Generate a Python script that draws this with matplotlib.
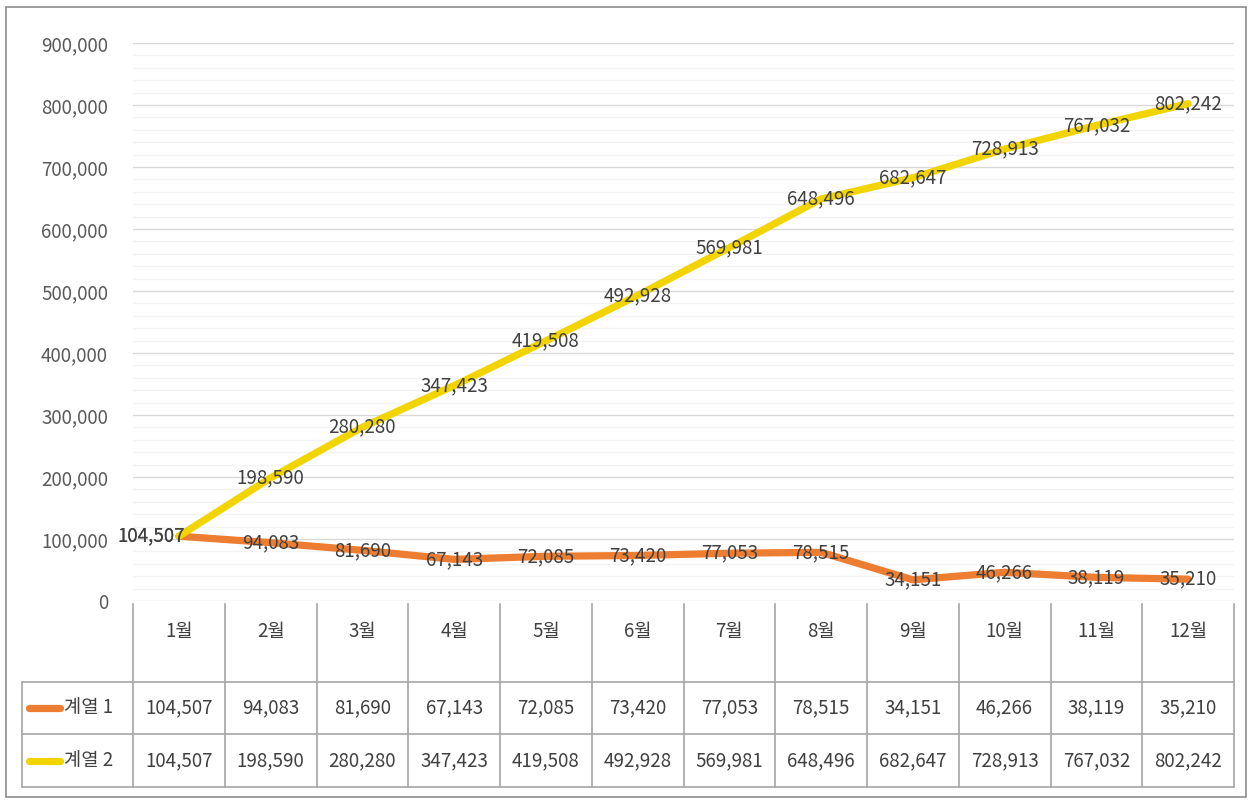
import matplotlib
matplotlib.use("Agg")
import matplotlib.pyplot as plt
from matplotlib.ticker import MultipleLocator, FuncFormatter

plt.rcParams['font.family'] = ['Noto Sans CJK KR', 'DejaVu Sans']

months = ["1월", "2월", "3월", "4월", "5월", "6월", "7월", "8월", "9월", "10월", "11월", "12월"]
series_names = ["계열 1", "계열 2"]
series1 = [104507, 94083, 81690, 67143, 72085, 73420, 77053, 78515, 34151, 46266, 38119, 35210]
series2 = [104507, 198590, 280280, 347423, 419508, 492928, 569981, 648496, 682647, 728913, 767032, 802242]
colors = ["#ED7D31", "#F2D400"]

W, H = 1253, 800
fig = plt.figure(figsize=(W / 100, H / 100), dpi=100)

FS = 13.5
TXT = '#404040'

# plot area in pixel coordinates
x0, x1 = 133, 1234
ytop, ybot = 43, 601
ax = fig.add_axes([x0 / W, (H - ybot) / H, (x1 - x0) / W, (ybot - ytop) / H])
ax.set_xlim(0, len(months))
ax.set_ylim(0, 900000)
ax.yaxis.set_major_locator(MultipleLocator(100000))
ax.yaxis.set_minor_locator(MultipleLocator(20000))
ax.yaxis.set_major_formatter(FuncFormatter(lambda v, p: f"{int(v):,}"))
ax.grid(True, which='major', axis='y', color='#D9D9D9', lw=1.0)
ax.grid(True, which='minor', axis='y', color='#F3F3F3', lw=1.0)
ax.set_axisbelow(True)
for s in ax.spines.values():
    s.set_visible(False)
ax.tick_params(axis='y', which='both', length=0, pad=18, labelsize=FS, labelcolor='#595959')
ax.tick_params(axis='x', length=0, labelbottom=False)
ax.set_xticks([])

xs = [i + 0.5 for i in range(len(months))]
all_series = [series1, series2]
for vals, c in zip(all_series, colors):
    ax.plot(xs, vals, color=c, lw=5.2, solid_capstyle='round', solid_joinstyle='round', zorder=3)

for vals in all_series:
    for i, (x, v) in enumerate(zip(xs, vals)):
        dx = -0.3 if i == 0 else 0.0
        ax.text(x + dx, v, f"{v:,}", ha='center', va='center', fontsize=FS,
                color=TXT, zorder=4)

# overlay axes for table and border, in pixel coords
ov = fig.add_axes([0, 0, 1, 1])
ov.set_xlim(0, W)
ov.set_ylim(H, 0)
ov.axis('off')
ov.patch.set_alpha(0)

ov.add_patch(plt.Rectangle((6, 7), 1240, 790, fill=False, ec='#8C8C8C', lw=1.2))

lc = '#A6A6A6'
ncol = len(months)
cw = (x1 - x0) / ncol
row_top, row1, row2, row_bot = 604, 682, 734, 787
legend_left = 22
for j in range(ncol + 1):
    xx = x0 + j * cw
    ov.plot([xx, xx], [row_top, row_bot], color=lc, lw=1.2)
ov.plot([legend_left, legend_left], [row1, row_bot], color=lc, lw=1.2)
for yy in (row1, row2, row_bot):
    ov.plot([legend_left, x1], [yy, yy], color=lc, lw=1.2)

for j, m in enumerate(months):
    ov.text(x0 + (j + 0.5) * cw, 631, m, ha='center', va='center', fontsize=FS, color=TXT)

for r, (name, vals, c) in enumerate(zip(series_names, all_series, colors)):
    yc = (row1 + row2) / 2 if r == 0 else (row2 + row_bot) / 2
    ov.plot([29, 60], [yc, yc], color=c, lw=5.2, solid_capstyle='round')
    ov.text(64, yc, name, ha='left', va='center', fontsize=FS, color=TXT)
    for j, v in enumerate(vals):
        ov.text(x0 + (j + 0.5) * cw, yc, f"{v:,}", ha='center', va='center', fontsize=FS, color=TXT)

fig.savefig("out.png", dpi=100)
